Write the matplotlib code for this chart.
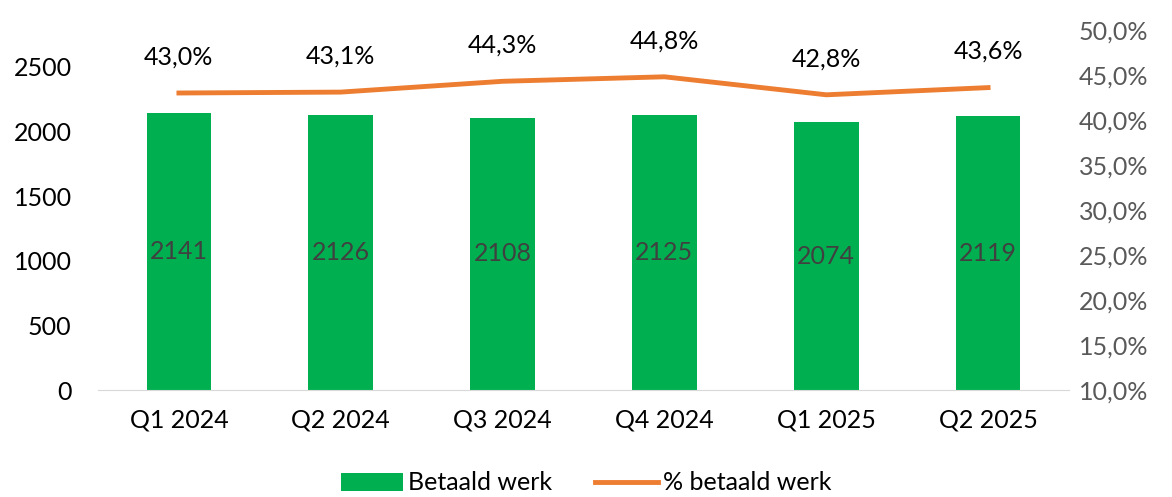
import matplotlib.pyplot as plt
from matplotlib.ticker import FuncFormatter, FixedLocator

plt.rcParams['font.family'] = ['Lato', 'DejaVu Sans']

quarters = ['Q1 2024', 'Q2 2024', 'Q3 2024', 'Q4 2024', 'Q1 2025', 'Q2 2025']
betaald_werk = [2141, 2126, 2108, 2125, 2074, 2119]
pct_betaald = [43.0, 43.1, 44.3, 44.8, 42.8, 43.6]

green = '#00B050'
orange = '#ED7D31'
fs = 18

fig = plt.figure(figsize=(11.72, 4.97), dpi=100)
ax = fig.add_axes([98 / 1172, 1 - 390 / 497, (1069 - 98) / 1172, (390 - 30) / 497])
ax2 = ax.twinx()

x = list(range(len(quarters)))
bars = ax.bar(x, betaald_werk, width=0.4, color=green, label='Betaald werk', zorder=2)
for xi, v in zip(x, betaald_werk):
    ax.text(xi, v / 2, str(v), ha='center', va='center', fontsize=fs, color='#404040')

ax.set_xlim(-0.5, len(quarters) - 0.5)
ax.set_ylim(0, 2786)
ax.yaxis.set_major_locator(FixedLocator([0, 500, 1000, 1500, 2000, 2500]))
ax.set_xticks(x)
ax.set_xticklabels(quarters)
ax.tick_params(axis='x', length=0, labelsize=fs, pad=13)
ax.tick_params(axis='y', length=0, labelsize=fs, pad=19)

line, = ax2.plot(x, pct_betaald, color=orange, lw=3.5, label='% betaald werk', zorder=3)
for xi, v in zip(x, pct_betaald):
    ax2.annotate(f'{v:.1f}%'.replace('.', ','), (xi, v), xytext=(0, 26),
                 textcoords='offset points', ha='center', va='center', fontsize=fs)
ax2.set_ylim(10, 50)
ax2.yaxis.set_major_locator(FixedLocator([10, 15, 20, 25, 30, 35, 40, 45, 50]))
ax2.yaxis.set_major_formatter(FuncFormatter(lambda v, p: f'{v:.1f}%'.replace('.', ',')))
ax2.tick_params(axis='y', length=0, labelsize=fs, labelcolor='#595959', pad=7)

for a in (ax, ax2):
    for s in ['top', 'left', 'right']:
        a.spines[s].set_visible(False)
ax.spines['bottom'].set_color('#D9D9D9')
ax2.spines['bottom'].set_visible(False)

fig.legend([bars, line], ['Betaald werk', '% betaald werk'], loc='center',
           bbox_to_anchor=(0.5, 1 - 483 / 497), ncol=2, frameon=False, fontsize=fs,
           handlelength=2.5, columnspacing=1.7, handletextpad=0.2)

fig.savefig('out.png', dpi=100)
